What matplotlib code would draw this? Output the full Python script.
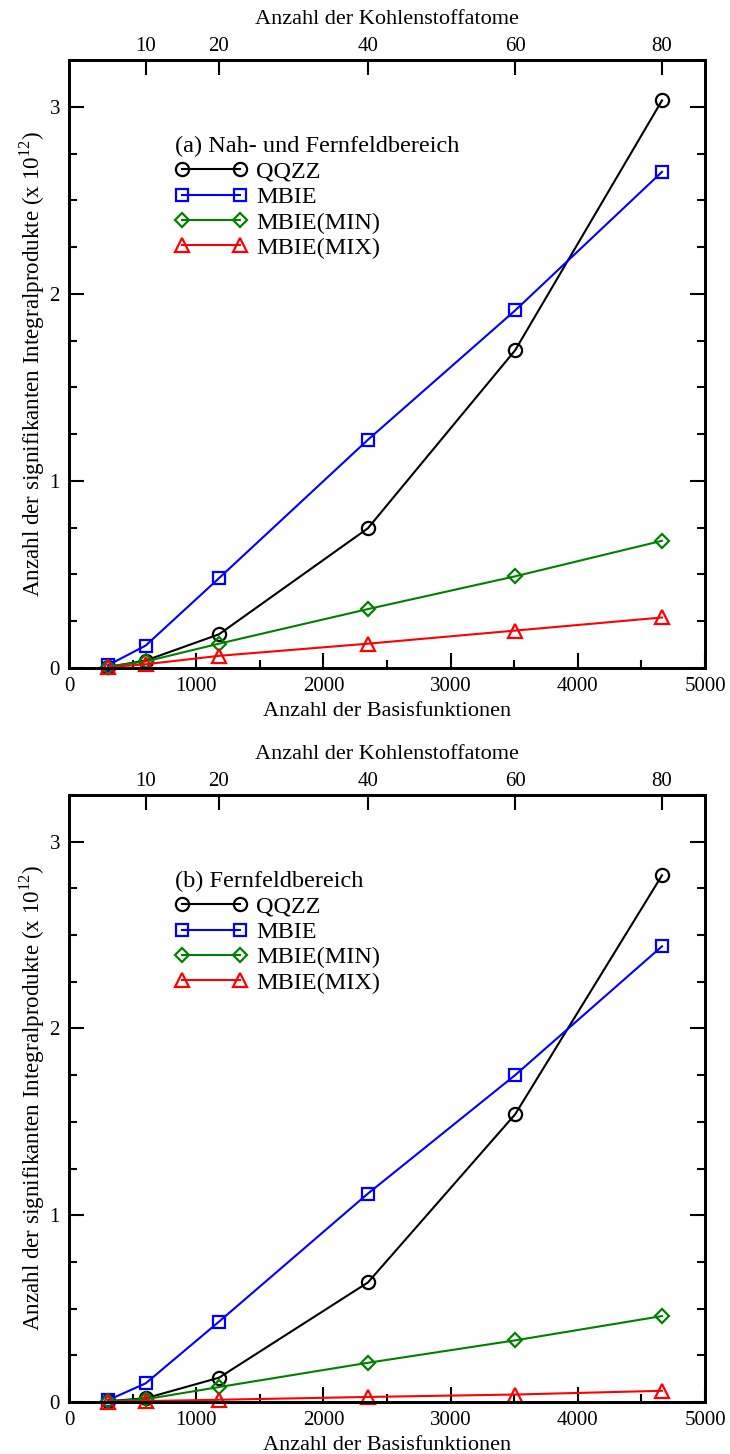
import matplotlib
matplotlib.use('Agg')
import matplotlib.pyplot as plt
from matplotlib.ticker import MultipleLocator

plt.rcParams['font.family'] = ['Liberation Serif', 'DejaVu Serif']
plt.rcParams['mathtext.fontset'] = 'custom'
plt.rcParams['mathtext.rm'] = 'Liberation Serif'

# Kohlenstoffatome und zugehoerige Anzahl der Basisfunktionen
carbons = [5, 10, 20, 40, 60, 80]
basis = [307, 603, 1179, 2350, 3507, 4662]

# (a) Nah- und Fernfeldbereich, Werte in 10^12
qqzz_a = [0.005, 0.04, 0.18, 0.747, 1.698, 3.034]
mbie_a = [0.015, 0.12, 0.48, 1.22, 1.911, 2.652]
mbie_min_a = [0.008, 0.035, 0.13, 0.315, 0.49, 0.68]
mbie_mix_a = [0.004, 0.02, 0.065, 0.13, 0.20, 0.27]

# (b) Fernfeldbereich
qqzz_b = [0.004, 0.02, 0.13, 0.64, 1.54, 2.82]
mbie_b = [0.01, 0.10, 0.43, 1.116, 1.75, 2.44]
mbie_min_b = [0.004, 0.015, 0.08, 0.21, 0.33, 0.46]
mbie_mix_b = [0.002, 0.005, 0.012, 0.027, 0.04, 0.06]

labels = ['QQZZ', 'MBIE', 'MBIE(MIN)', 'MBIE(MIX)']
colors = ['black', 'blue', 'green', 'red']
markers = ['o', 's', 'D', '^']
msizes = [9.5, 9, 7.5, 9.5]

TICK_FS = 15
LABEL_FS = 16
LEG_FS = 17.5


def drawPanel(ax, series, title):
    for vals, lab, col, mk, ms in zip(series, labels, colors, markers, msizes):
        ax.plot(basis, vals, color=col, lw=1.5, marker=mk, ms=ms,
                mfc='none', mec=col, mew=1.6, label=lab, clip_on=False)
    ax.set_xlim(0, 5000)
    ax.set_ylim(0, 3.25)
    ax.xaxis.set_major_locator(MultipleLocator(1000))
    ax.xaxis.set_minor_locator(MultipleLocator(500))
    ax.yaxis.set_major_locator(MultipleLocator(1))
    ax.yaxis.set_minor_locator(MultipleLocator(0.25))
    ax.tick_params(which='both', direction='in', width=1.5, labelsize=TICK_FS,
                   right=True, top=False, pad=6.5)
    ax.tick_params(which='major', length=11)
    ax.tick_params(which='minor', length=6)
    for s in ax.spines.values():
        s.set_linewidth(2)
    ax.set_xlabel('Anzahl der Basisfunktionen', fontsize=LABEL_FS, labelpad=4)
    ax.set_ylabel('Anzahl der signifikanten Integralprodukte (x 10$^{12}$)',
                  fontsize=16.6, labelpad=2)

    # obere Achse: Kohlenstoffatome (ohne C5)
    top = ax.twiny()
    top.set_xlim(ax.get_xlim())
    top.set_xticks(basis[1:])
    top.set_xticklabels([str(c) for c in carbons[1:]])
    top.tick_params(direction='in', length=11, width=1.5, labelsize=TICK_FS, pad=3)
    top.set_xlabel('Anzahl der Kohlenstoffatome', fontsize=LABEL_FS, labelpad=9)
    for s in top.spines.values():
        s.set_linewidth(2)

    leg = ax.legend(loc='upper left', bbox_to_anchor=(0.15, 0.8915), title=title,
                    numpoints=2, handlelength=3.0, handletextpad=0.35,
                    labelspacing=0.14, frameon=False, fontsize=LEG_FS,
                    title_fontsize=LEG_FS, borderaxespad=0, borderpad=0.42)
    leg._legend_box.align = 'left'


fig = plt.figure(figsize=(7.3, 14.54), dpi=100)
axA = fig.add_axes([69 / 730, 1 - 668 / 1454, 636 / 730, 608 / 1454])
axB = fig.add_axes([69 / 730, 1 - 1402 / 1454, 636 / 730, 607 / 1454])

drawPanel(axA, [qqzz_a, mbie_a, mbie_min_a, mbie_mix_a], '(a) Nah- und Fernfeldbereich')
drawPanel(axB, [qqzz_b, mbie_b, mbie_min_b, mbie_mix_b], '(b) Fernfeldbereich')

fig.savefig('out.png', dpi=100)
